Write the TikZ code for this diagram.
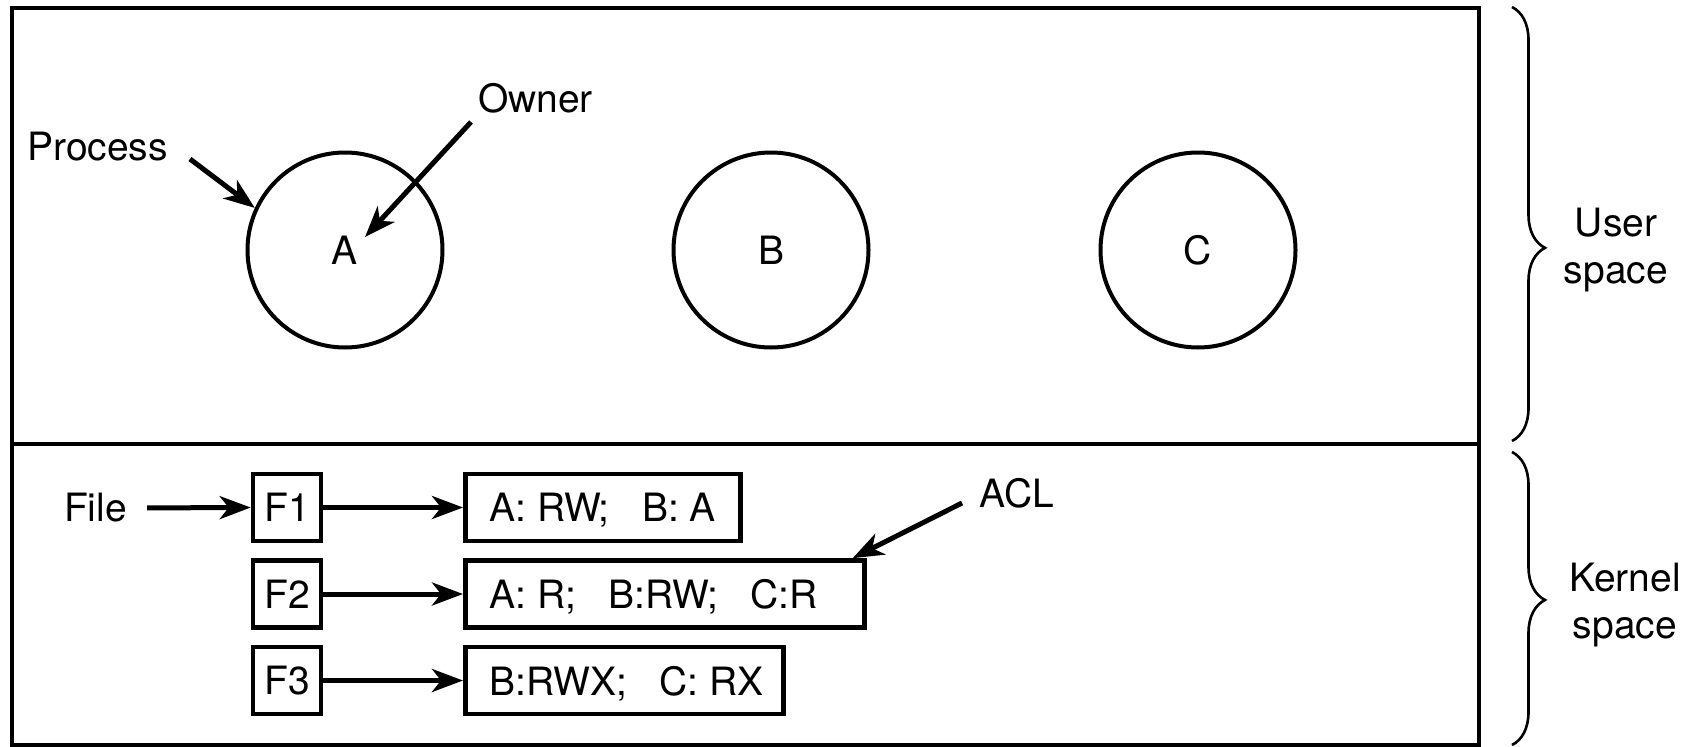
\documentclass[tikz,border=0pt]{standalone}
\usepackage{fontspec}
\setmainfont{TeX Gyre Heros}
\usetikzlibrary{arrows.meta,decorations.pathreplacing}
\begin{document}
\begin{tikzpicture}[x=1pt,y=-1pt,
  bigfont/.style={font=\fontsize{39}{47}\selectfont},
  lbl/.style={bigfont, inner sep=0pt},
  fbox/.style={bigfont, draw, line width=4.6pt, minimum width=68pt, minimum height=67pt, inner sep=0pt, text depth=0pt},
  aclbox/.style={bigfont, draw, line width=4.6pt, minimum height=67pt, inner xsep=24pt, inner ysep=0pt, text depth=0pt, anchor=west},
  proc/.style={bigfont, circle, draw, line width=4pt, minimum size=195pt, inner sep=0pt},
  arr/.style={line width=5pt, -{Stealth[length=31pt,width=23pt,inset=9pt]}},
  brc/.style={decorate, line width=2.6pt}
]
\useasboundingbox (0,0) rectangle (1695,747);
% frame
\draw[line width=4.6pt] (12,8) rectangle (1479,745);
\draw[line width=4.6pt] (12,444) -- (1479,444);
% processes
\node[proc] (A) at (345,250) {A};
\node[proc] (B) at (771,250) {B};
\node[proc] (C) at (1198,250) {C};
\node[lbl] (process) at (97.5,147) {Process};
\node[lbl] (owner) at (535.5,98) {Owner};
\coordinate (pstart) at (190,159);
\coordinate (ostart) at (471,122);
\coordinate (otip) at (365,237);
\draw[arr] (pstart) -- (A.155);
\draw[arr] (ostart) -- (otip);
% files
\node[fbox] (F1) at (287,507.5) {F1};
\node[fbox] (F2) at (287,594) {F2};
\node[fbox] (F3) at (287,680.5) {F3};
\node[aclbox] (L1) at (463,507.5) {\makebox[227pt][l]{A: RW;~~~B: A}};
\node[aclbox] (L2) at (463,594) {\makebox[351pt][l]{A: R;~~~B:RW;~~~C:R}};
\node[aclbox] (L3) at (463,680.5) {\makebox[270pt][l]{B:RWX;~~~C: RX}};
\node[lbl] (file) at (95.5,508) {File};
\node[lbl] (acl) at (1017,493) {ACL};
\draw[arr, shorten <=20pt] (file.east) -- (F1.west);
\draw[arr] (F1.east) -- (L1.west);
\draw[arr] (F2.east) -- (L2.west);
\draw[arr] (F3.east) -- (L3.west);
\coordinate (astart) at (962,503);
\draw[arr] (astart) -- ([xshift=-14pt]L2.north east);
% braces
\draw[brc, decoration={brace, amplitude=33pt, aspect=0.555}] (1512,7) -- (1512,441);
\draw[brc, decoration={brace, amplitude=33pt, aspect=0.505}] (1512,452) -- (1512,745);
\node[lbl, align=center] (user) at (1616,250) {User\\space};
\node[lbl, align=center] (kernel) at (1625,605) {Kernel\\space};
\end{tikzpicture}
\end{document}
